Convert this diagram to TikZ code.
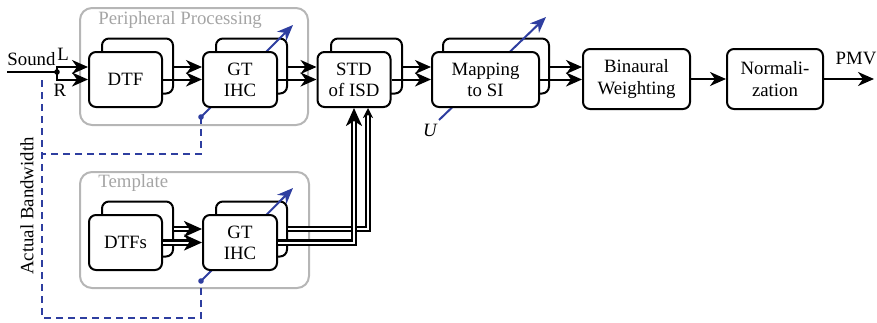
\documentclass[tikz,border=0pt]{standalone}
\usepackage{fontspec}
\setmainfont{Liberation Serif}
\usetikzlibrary{arrows.meta}
\definecolor{bwblue}{RGB}{46,62,160}
\definecolor{framegray}{RGB}{182,182,182}
\definecolor{labelgray}{RGB}{165,165,165}

\begin{document}
\begin{tikzpicture}[x=0.5pt, y=-0.5pt,
  font=\fontsize{9.4}{10.6}\selectfont,
  blk/.style={draw, line width=1pt, rounded corners=3.5pt, fill=white, minimum width=36.5pt, minimum height=27.5pt, align=center, inner sep=1pt},
  sig/.style={line width=1pt, -{Stealth[length=8pt, width=7pt, inset=2.5pt]}},
  dsig/.style={line width=1.2pt, double, double distance=1pt, -{Stealth[length=9pt, width=8pt, inset=2.5pt]}},
  frame/.style={draw=framegray, line width=1pt, rounded corners=6pt},
  ctrl/.style={bwblue, line width=1pt},
  bw/.style={bwblue, line width=0.8pt, dash pattern=on 3.5pt off 2.5pt}]
\useasboundingbox (0,0) rectangle (877,322);

\draw[frame] (80,8) rectangle (308,125);
\node[labelgray, anchor=west, inner sep=0] (pplab) at (98,20) {Peripheral Processing};
\draw[frame] (80,172) rectangle (309,288);
\node[labelgray, anchor=west, inner sep=0] (tplab) at (98,183) {Template};

\node[blk, minimum width=35.5pt] (dtfB) at (137.5,66) {};
\node[blk, minimum width=35.5pt] (gtB) at (251.5,66) {};
\node[blk, minimum width=35.5pt] (stdB) at (366.5,66) {};
\node[blk, minimum width=53pt] (mapB) at (496,66) {};
\node[blk, minimum width=35.5pt] (dtfsB) at (137.5,229) {};
\node[blk, minimum width=35.5pt] (gtlB) at (251.5,229) {};

\coordinate (pdot) at (201,117);
\coordinate (ldot) at (201,281);
\coordinate (udot) at (439,120);
\draw[ctrl, -{Stealth[length=8pt, width=6.5pt, inset=2.5pt]}] (pdot) -- (293,25);
\draw[ctrl, -{Stealth[length=8pt, width=6.5pt, inset=2.5pt]}] (ldot) -- (293,188);
\draw[ctrl, -{Stealth[length=8pt, width=6.5pt, inset=2.5pt]}] (udot) -- (546,17);
\fill[bwblue] (pdot) circle (1.4pt);
\fill[bwblue] (ldot) circle (1.4pt);
\node[font=\fontsize{9.4}{10.6}\itshape] (ulab) at (430,130) {U};

\node[blk] (dtf) at (125.5,79.5) {DTF};
\node[blk, minimum width=37pt] (gt) at (240,79.5) {GT\\IHC};
\node[blk] (std) at (354,79.5) {STD\\of ISD};
\node[blk, minimum width=53.5pt] (map) at (485.5,79.5) {Mapping\\to SI};
\node[blk, minimum width=53.5pt, minimum height=30pt] (bin) at (636.5,79) {Binaural\\Weighting};
\node[blk, minimum width=48pt, minimum height=30pt] (norm) at (775,79) {Normali-\\zation};
\node[blk] (dtfs) at (125.5,242.5) {DTFs};
\node[blk, minimum width=37pt] (gtl) at (240,242.5) {GT\\IHC};

\coordinate (snd) at (7,72);
\coordinate (jn) at (57,72);
\node[anchor=base west, inner sep=0] (sndlab) at (7,65) {Sound};
\node (llab) at (63,54) {L};
\node (rlab) at (60,90) {R};
\draw[line width=1pt] (snd) -- (jn);
\fill (jn) circle (1.4pt);
\draw[sig] (jn) |- (dtf.west |- 0,67);
\draw[sig] (jn) |- (dtf.west);

\draw[sig] (dtfB.east |- 0,67) -- (gt.west |- 0,67);
\draw[sig] (dtf.east) -- (gt.west);
\draw[sig] (gtB.east |- 0,67) -- (std.west |- 0,67);
\draw[sig] (gt.east) -- (std.west);
\draw[sig] (stdB.east |- 0,67) -- (map.west |- 0,67);
\draw[sig] (std.east) -- (map.west);
\draw[sig] (mapB.east |- 0,67) -- (bin.west |- 0,67);
\draw[sig] (map.east) -- (bin.west |- map.east);
\draw[sig] (bin) -- (norm);
\coordinate (out) at (874,79);
\draw[sig] (norm.east) -- (out);
\node[anchor=south] (pmv) at (856,72) {PMV};

\draw[dsig] (dtfsB.east |- 0,229) -- (gtl.west |- 0,229);
\draw[dsig] (dtfs.east) -- (gtl.west);
\draw[dsig, -{Stealth[length=5pt, width=5pt, inset=1.5pt]}] (gtlB.east |- 0,229) -| ([xshift=7pt]std.south);
\draw[dsig] (gtl.east) -| (std.south);

\coordinate (bwtop) at (42,80);
\draw[bw] (pdot) -- (201,154) -- (42,154);
\draw[bw] (bwtop) -- (42,318) -- (201,318) -- (ldot);
\node[rotate=90] (bwlab) at (27,206) {Actual Bandwidth};
\end{tikzpicture}
\end{document}
